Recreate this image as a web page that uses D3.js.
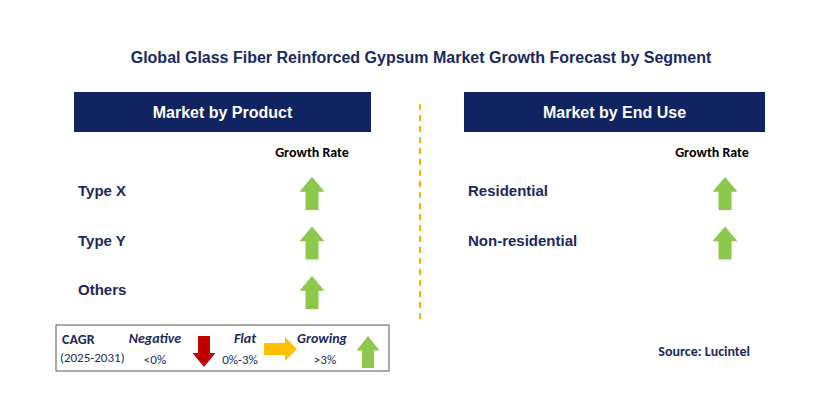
<!DOCTYPE html>
<html><head><meta charset="utf-8">
<script src="https://cdn.jsdelivr.net/npm/d3@7"></script>
<style>body{margin:0;background:#fff}text{font-family:Arial,"Liberation Sans",sans-serif}.cal{font-family:Calibri,Carlito,"Open Sans",sans-serif}</style>
</head><body>
<svg id="chart" width="829" height="400"></svg>
<script>
// Segment data
var productCategories = ['Type X', 'Type Y', 'Others'];
var productGrowth = ['growing', 'growing', 'growing'];
var endUseCategories = ['Residential', 'Non-residential'];
var endUseGrowth = ['growing', 'growing'];

var svg = d3.select("#chart");
var navy = "#0f2460", green = "#8cc84b";

svg.append("text").attr("x", 421).attr("y", 63).attr("text-anchor", "middle")
    .style("font-size", "16px").style("font-weight", "bold").style("fill", "#1a2a5c")
    .text("Global Glass Fiber Reinforced Gypsum Market Growth Forecast by Segment");

// divider
svg.append("line").attr("x1", 420).attr("x2", 420).attr("y1", 104).attr("y2", 320)
    .attr("stroke", "#f5b400").attr("stroke-width", 2).attr("stroke-dasharray", "6,5");

function arrowPath(cx, top, w, h, dir) {
    var hw = w / 2, sw = w * 0.26, hh = h * 0.45;
    var pts = [[0, 0], [hw, hh], [sw, hh], [sw, h], [-sw, h], [-sw, hh], [-hw, hh]];
    return "M" + pts.map(p => (cx + p[0]) + "," + (top + (dir === "down" ? h - p[1] : p[1]))).join("L") + "Z";
}

function panel(x0, x1, title, cats, growth, gx, hx) {
    svg.append("rect").attr("x", x0).attr("y", 92).attr("width", x1 - x0).attr("height", 40).attr("fill", navy);
    svg.append("text").attr("x", (x0 + x1) / 2).attr("y", 118).attr("text-anchor", "middle")
        .style("fill", "#fff").style("font-size", "16px").style("font-weight", "bold").text(title);
    svg.append("text").attr("class", "cal").attr("x", hx).attr("y", 157).attr("text-anchor", "middle")
        .style("font-size", "14px").style("font-weight", "bold").text("Growth Rate");
    var y = d3.scalePoint().domain(cats).range([191, 191 + 49.5 * (cats.length - 1)]);
    var g = svg.append("g");
    g.selectAll(".lab").data(cats).enter().append("text")
        .attr("x", x0 + 4).attr("y", d => y(d) + 5)
        .style("font-size", "15px").style("font-weight", "bold").style("fill", "#1a2a5c").text(d => d);
    g.selectAll(".arr").data(cats).enter().append("path")
        .attr("d", d => arrowPath(gx, y(d) - 14, 25, 33, "up")).attr("fill", green);
}
panel(74, 371, "Market by Product", productCategories, productGrowth, 312, 312);
panel(464, 765, "Market by End Use", endUseCategories, endUseGrowth, 725, 712);

// legend
var lg = svg.append("g").attr("class", "leg");
lg.append("rect").attr("x", 56).attr("y", 325).attr("width", 333).attr("height", 46)
    .attr("fill", "#fff").attr("stroke", "#555").attr("stroke-width", 1);
lg.append("text").attr("class", "cal").attr("x", 62).attr("y", 344).style("font-size", "14px").style("font-weight", "bold").style("fill", "#1a2a5c").text("CAGR");
lg.append("text").attr("class", "cal").attr("x", 60).attr("y", 362).style("font-size", "13px").style("fill", "#1a2a5c").text("(2025-2031)");
[["Negative", 155, "<0%", 155], ["Flat", 245, "0%-3%", 240], ["Growing", 322, ">3%", 325]].forEach(function (d) {
    lg.append("text").attr("class", "cal").attr("x", d[1]).attr("y", 343).attr("text-anchor", "middle")
        .style("font-size", "14px").style("font-weight", "bold").style("font-style", "italic").style("fill", "#1a2a5c").text(d[0]);
    lg.append("text").attr("class", "cal").attr("x", d[3]).attr("y", 364).attr("text-anchor", "middle")
        .style("font-size", "13px").style("fill", "#1a2a5c").text(d[2]);
});
lg.append("path").attr("d", arrowPath(204, 336, 23, 31, "down")).attr("fill", "#c00000");
lg.append("path").attr("d", "M264,343L285,343L285,337L297,349L285,361L285,355L264,355Z").attr("fill", "#ffc000");
lg.append("path").attr("d", arrowPath(368, 336, 23, 32, "up")).attr("fill", green);

svg.append("text").attr("class", "cal").attr("x", 750).attr("y", 356).attr("text-anchor", "end")
    .style("font-size", "14px").style("font-weight", "bold").style("fill", "#1a2a5c").text("Source: Lucintel");
</script>
</body></html>
